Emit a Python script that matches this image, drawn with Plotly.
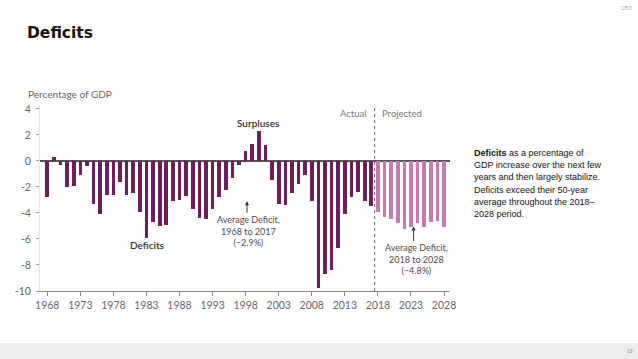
import plotly.graph_objects as go

# ---- data ----
actual_years = list(range(1968, 2018))
actual_values = [-2.8, 0.3, -0.3, -2.0, -1.9, -1.1, -0.4, -3.3, -4.1, -2.6,
                 -2.6, -1.6, -2.6, -2.5, -3.9, -5.9, -4.7, -5.0, -4.9, -3.1,
                 -3.0, -2.7, -3.7, -4.4, -4.5, -3.7, -2.8, -2.2, -1.3, -0.3,
                 0.8, 1.3, 2.3, 1.2, -1.5, -3.3, -3.4, -2.5, -1.8, -1.1,
                 -3.1, -9.8, -8.7, -8.4, -6.7, -4.1, -2.8, -2.4, -3.1, -3.5]
projected_years = list(range(2018, 2029))
projected_values = [-3.9, -4.3, -4.5, -4.8, -5.2, -5.1, -4.8, -5.1, -4.7, -4.6, -5.1]

x_tick_years = [1968, 1973, 1978, 1983, 1988, 1993, 1998, 2003, 2008, 2013, 2018, 2023, 2028]
y_tick_vals = [4, 2, 0, -2, -4, -6, -8, -10]
y_tick_text = ["4", "2", "0", "-2", "-4", "-6", "-8", "-10"]

side_text_lines = [
    "<b>Deficits</b> as a percentage of",
    "GDP increase over the next few",
    "years and then largely stabilize.",
    "Deficits exceed their 50-year",
    "average throughout the 2018\u2013",
    "2028 period.",
]

DARK = "#6b1f5c"
PINK = "#c47bb3"
AXF = "Lato"
GRAY = "#666666"

fig = go.Figure()
fig.add_trace(go.Bar(x=actual_years, y=actual_values, marker_color=DARK,
                     marker_line_width=0, width=0.55, name="Actual"))
fig.add_trace(go.Bar(x=projected_years, y=projected_values, marker_color=PINK,
                     marker_line_width=0, width=0.55, name="Projected"))

L, R, T, B = 40, 188, 105, 68
W, H = 638, 359

fig.update_layout(
    width=W, height=H,
    margin=dict(l=L, r=R, t=T, b=B),
    paper_bgcolor="white", plot_bgcolor="white",
    showlegend=False, bargap=0,
    font=dict(family=AXF, color=GRAY, size=11),
)
fig.update_xaxes(range=[1966.9, 2028.9], tickvals=x_tick_years,
                 ticktext=[str(v) for v in x_tick_years],
                 showgrid=False, zeroline=False, showline=True,
                 linecolor="#8a8a8a", linewidth=1, ticks="outside", ticklen=4,
                 tickcolor="#8a8a8a", tickfont=dict(family=AXF, size=10.5, color=GRAY))
fig.update_yaxes(range=[-10, 4.3], tickvals=y_tick_vals, ticktext=y_tick_text,
                 showgrid=False, zeroline=True, zerolinecolor="#555555",
                 zerolinewidth=1.5, showline=True, linecolor="#e6e6e6",
                 ticks="outside", ticklen=3, tickcolor="#999999",
                 ticklabelstandoff=3,
                 tickfont=dict(family=AXF, size=10.5, color=GRAY))

# dashed separator between actual and projected
fig.add_shape(type="line", xref="x", yref="y", x0=2017.5, x1=2017.5, y0=-10, y1=4.1,
              line=dict(color="#666666", width=1, dash="dot"))


def px_x(px):
    return (px - L) / (W - L - R)


def px_y(py):
    return (H - B - py) / (H - T - B)


ann = []
ann.append(dict(xref="paper", yref="paper", x=px_x(26), y=px_y(94),
                text="Percentage of GDP", showarrow=False, xanchor="left",
                yanchor="middle", font=dict(family=AXF, size=10, color=GRAY)))
ann.append(dict(xref="x", yref="y", x=2017.5, y=3.62, xshift=-6, text="Actual",
                showarrow=False, xanchor="right", yanchor="middle",
                font=dict(family=AXF, size=9.5, color="#777777")))
ann.append(dict(xref="x", yref="y", x=2017.5, y=3.62, xshift=5, text="Projected",
                showarrow=False, xanchor="left", yanchor="middle",
                font=dict(family=AXF, size=9.5, color="#777777")))
ann.append(dict(xref="x", yref="y", x=1999.9, y=2.95, text="Surpluses",
                showarrow=False, xanchor="center", yanchor="middle",
                font=dict(family=AXF, size=10, color="#333333", weight=600)))
ann.append(dict(xref="x", yref="y", x=1983.2, y=-6.44, text="Deficits",
                showarrow=False, xanchor="center", yanchor="middle",
                font=dict(family=AXF, size=10, color="#333333", weight=600)))
# arrows
ann.append(dict(xref="x", yref="y", x=1998.2, y=-3.1, ax=0, ay=13, text="",
                showarrow=True, arrowhead=2, arrowsize=0.8, arrowwidth=1,
                arrowcolor="#333333"))
ann.append(dict(xref="x", yref="y", x=2023.4, y=-5.05, ax=0, ay=16, text="",
                showarrow=True, arrowhead=2, arrowsize=0.8, arrowwidth=1,
                arrowcolor="#333333"))
ann.append(dict(xref="x", yref="y", x=1998.5, y=-5.36,
                text="Average Deficit,<br>1968 to 2017<br>(\u22122.9%)",
                showarrow=False, xanchor="center", yanchor="middle",
                font=dict(family=AXF, size=9, color="#4a4a4a")))
ann.append(dict(xref="x", yref="y", x=2023.9, y=-7.54,
                text="Average Deficit,<br>2018 to 2028<br>(\u22124.8%)",
                showarrow=False, xanchor="center", yanchor="middle",
                font=dict(family=AXF, size=9, color="#4a4a4a")))

# slide elements
ann.append(dict(xref="paper", yref="paper", x=px_x(25), y=px_y(33),
                text="<b>Deficits</b>", showarrow=False, xanchor="left",
                yanchor="middle", font=dict(family="DejaVu Sans", size=15.5, color="#111111")))
for i, line in enumerate(side_text_lines):
    ann.append(dict(xref="paper", yref="paper", x=px_x(472), y=px_y(152.5 + 12.35 * i),
                    text=line, showarrow=False, xanchor="left", yanchor="middle",
                    align="left",
                    font=dict(family="Liberation Sans", size=9, color="#111111")))
ann.append(dict(xref="paper", yref="paper", x=px_x(626), y=px_y(8),
                text="CBO", showarrow=False, xanchor="center", yanchor="middle",
                font=dict(family="Liberation Sans", size=5, color="#aaaaaa")))
ann.append(dict(xref="paper", yref="paper", x=px_x(630), y=px_y(351),
                text="19", showarrow=False, xanchor="center", yanchor="middle",
                font=dict(family="Liberation Sans", size=5, color="#999999")))
fig.update_layout(annotations=ann)

# footer band
fig.add_shape(type="rect", xref="paper", yref="paper", x0=px_x(0), x1=px_x(W),
              y0=px_y(H), y1=px_y(343), fillcolor="#ececec", line_width=0, layer="below")

fig.write_html("out.html", config={"displayModeBar": False},
               post_script="document.body.style.margin='0';document.body.style.overflow='hidden';")
